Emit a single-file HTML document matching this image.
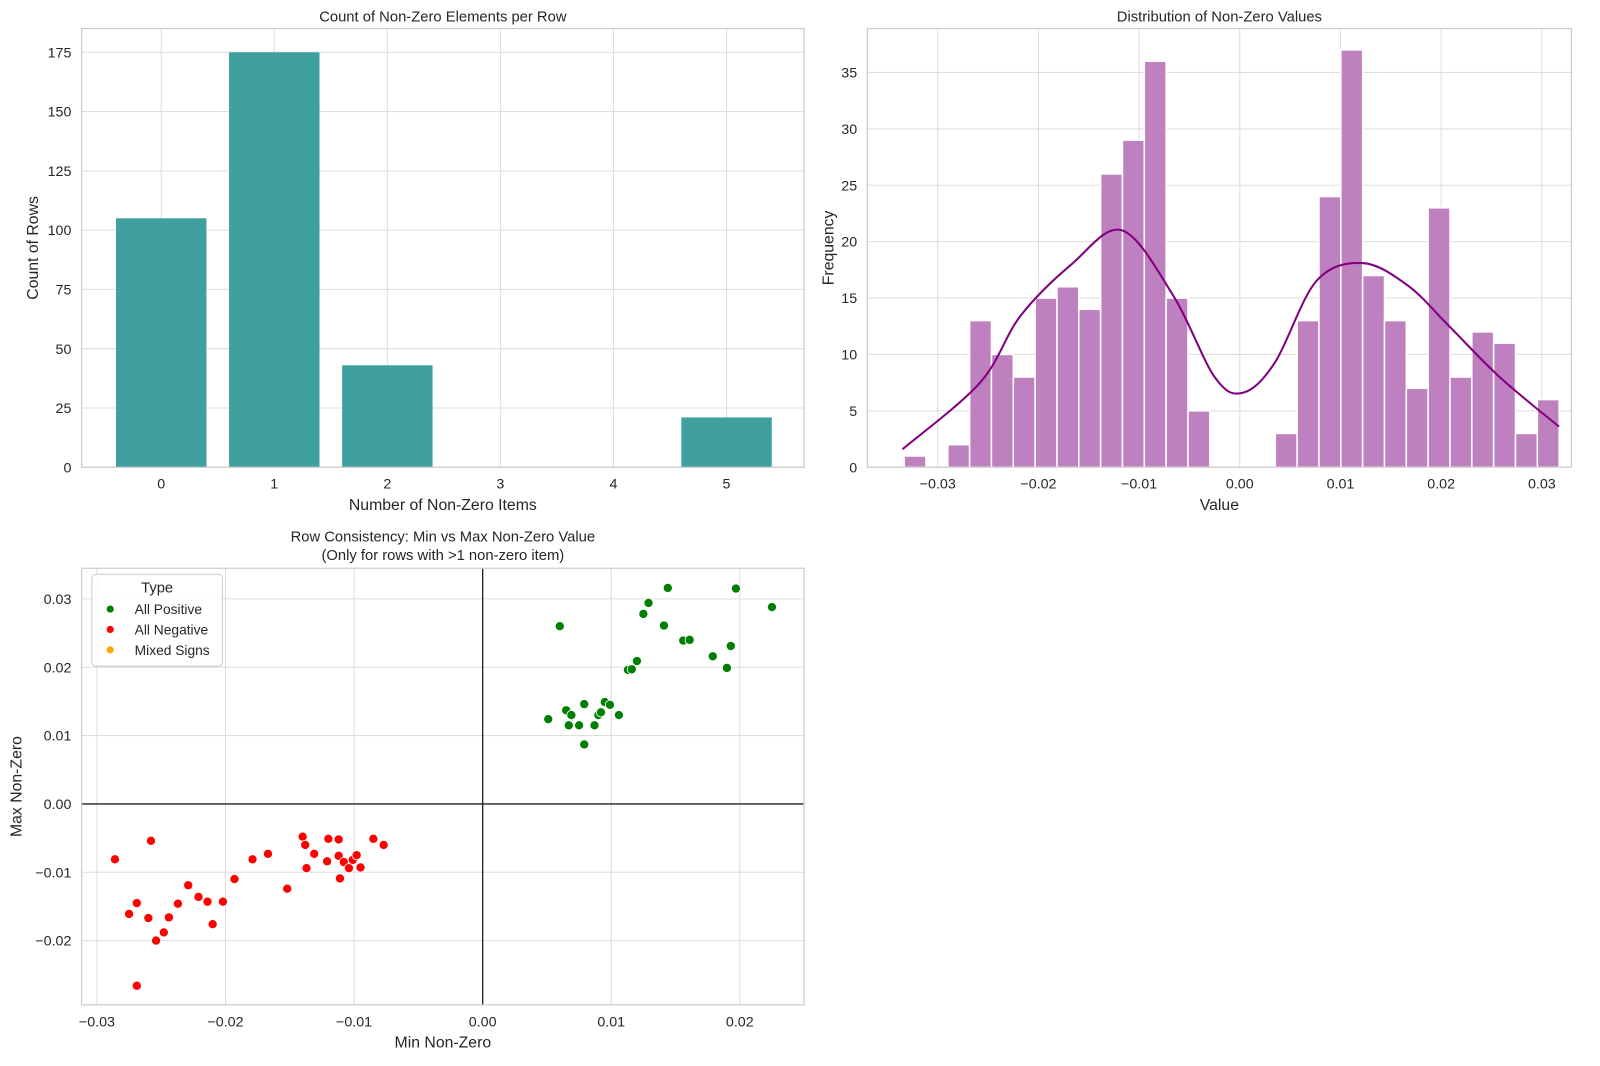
<!DOCTYPE html>
<html><head><meta charset="utf-8"><style>
body{margin:0;background:#fff;font-family:"Liberation Sans","DejaVu Sans",sans-serif;}
svg text{font-family:"Liberation Sans","DejaVu Sans",sans-serif;fill:#262626;}
</style></head><body>
<svg id="c" width="1600" height="1061" viewBox="0 0 1568 1040" preserveAspectRatio="none" xmlns="http://www.w3.org/2000/svg"></svg>
<script>
// Panel 1 data
const barCats=[0,1,2,3,4,5];
const barVals=[105,175,43,0,0,21];
const barYTicks=[0,25,50,75,100,125,150,175];
// Panel 2 data
const histCounts=[1,0,2,13,10,8,15,16,14,26,29,36,15,5,0,0,0,3,13,24,37,17,13,7,23,8,12,11,3,6];
const histStart=-0.03334, histEnd=0.03172;
const kdeX=[-0.0335,-0.0258,-0.0218,-0.0167,-0.0117,-0.0066,-0.0025,0.0003,0.0035,0.0076,0.0122,0.0167,0.0208,0.0258,0.0317];
const kdeY=[1.6,7.5,13.4,18,21,15.2,8,6.6,9.3,16.5,18.1,16.1,12.5,8,3.6];
const histXTicks=[-0.03,-0.02,-0.01,0,0.01,0.02,0.03];
const histYTicks=[0,5,10,15,20,25,30,35];
// Panel 3 data
const posX=[0.0051,0.0060,0.0065,0.0067,0.0069,0.0075,0.0079,0.0079,0.0087,0.0090,0.0092,0.0095,0.0099,0.0106,0.0113,0.0116,0.0120,0.0125,0.0129,0.0141,0.0144,0.0156,0.0161,0.0179,0.0190,0.0193,0.0197,0.0225];
const posY=[0.0124,0.0260,0.0137,0.0115,0.0130,0.0115,0.0146,0.0087,0.0115,0.0130,0.0134,0.0149,0.0145,0.0130,0.0196,0.0197,0.0209,0.0278,0.0294,0.0261,0.0316,0.0239,0.0240,0.0216,0.0199,0.0231,0.0315,0.0288];
const negX=[-0.0286,-0.0275,-0.0269,-0.0260,-0.0258,-0.0254,-0.0248,-0.0244,-0.0237,-0.0229,-0.0221,-0.0214,-0.0210,-0.0202,-0.0193,-0.0179,-0.0167,-0.0152,-0.0140,-0.0138,-0.0137,-0.0131,-0.0121,-0.0120,-0.0112,-0.0112,-0.0111,-0.0108,-0.0104,-0.0101,-0.0098,-0.0095,-0.0085,-0.0077,-0.0269];
const negY=[-0.0081,-0.0161,-0.0145,-0.0167,-0.0054,-0.0200,-0.0188,-0.0166,-0.0146,-0.0119,-0.0136,-0.0143,-0.0176,-0.0143,-0.0110,-0.0081,-0.0073,-0.0124,-0.0048,-0.0060,-0.0094,-0.0073,-0.0084,-0.0051,-0.0052,-0.0076,-0.0109,-0.0085,-0.0094,-0.0082,-0.0075,-0.0093,-0.0051,-0.0060,-0.0266];
const scXTicks=[-0.03,-0.02,-0.01,0,0.01,0.02];
const scYTicks=[-0.02,-0.01,0,0.01,0.02,0.03];

const svg=document.getElementById('c');
const NS='http://www.w3.org/2000/svg';
function mk(tag,attrs,parent){const e=document.createElementNS(NS,tag);for(const k in attrs)e.setAttribute(k,attrs[k]);(parent||svg).appendChild(e);return e;}
function txt(s,x,y,size,anchor,parent){const t=mk('text',{x:x,y:y,'font-size':size,'text-anchor':anchor||'middle'},parent);t.textContent=s;return t;}
function lin(d0,d1,r0,r1){return v=>r0+(v-d0)/(d1-d0)*(r1-r0);}
function fmt(v,d){let s=v.toFixed(d);if(v<0)s='\u2212'+s.slice(1);if(Math.abs(v)<1e-9)s=(0).toFixed(d);return s;}
function frame(g,L,T,R,B){const r=mk('rect',{x:L,y:T,width:R-L,height:B-T,fill:'none',stroke:'#cccccc','stroke-width':1.2},g);}

// ---------- Panel 1 ----------
{
const g=mk('g',{});
const L=80,R=788,T=28,B=458;
const x=lin(0,1,158,268.8), y=lin(0,185,B,T);
barYTicks.forEach(v=>{const l=mk('line',{x1:L,x2:R,y1:y(v),y2:y(v),stroke:'#dddddd'},g);
 const t=txt(String(v),L-10,y(v)+5,14,'end',g);});
barCats.forEach(c=>{const l=mk('line',{x1:x(c),x2:x(c),y1:T,y2:B,stroke:'#dddddd'},g);
 const t=txt(String(c),x(c),B+21,14,'middle',g);});
barCats.forEach((c,i)=>{const w=0.8*110.8;const r=mk('rect',{x:x(c)-w/2,y:y(barVals[i]),width:w,height:y(0)-y(barVals[i]),fill:'#40a0a0'},g);});
frame(g,L,T,R,B);
let t=txt('Count of Non-Zero Elements per Row',(L+R)/2,T-7,14.5,'middle',g);
t=txt('Number of Non-Zero Items',(L+R)/2,B+42,15.5,'middle',g);
t=txt('Count of Rows',0,0,15.5,'middle',g);t.setAttribute('transform','translate(37,'+((T+B)/2)+') rotate(-90)');
}
// ---------- Panel 2 ----------
{
const g=mk('g',{});
const L=850,R=1540,T=28,B=458;
const x=lin(0,0.01,1215,1313.67), y=lin(0,35,B,71);
histYTicks.forEach(v=>{const l=mk('line',{x1:L,x2:R,y1:y(v),y2:y(v),stroke:'#dddddd'},g);
 const t=txt(String(v),L-10,y(v)+5,14,'end',g);});
histXTicks.forEach(v=>{const l=mk('line',{x1:x(v),x2:x(v),y1:T,y2:B,stroke:'#dddddd'},g);
 const t=txt(fmt(v,2),x(v),B+21,14,'middle',g);});
const bw=(histEnd-histStart)/histCounts.length;
histCounts.forEach((c,i)=>{if(!c)return;const x0=x(histStart+i*bw),x1=x(histStart+(i+1)*bw);
 const r=mk('rect',{x:x0,y:y(c),width:x1-x0,height:y(0)-y(c),fill:'#bf80bf',stroke:'#ffffff','stroke-width':1.5},g);});
const pts=kdeX.map((v,i)=>[x(v),y(kdeY[i])]);let d='M'+pts[0][0]+','+pts[0][1];
for(let i=0;i<pts.length-1;i++){const p0=pts[Math.max(0,i-1)],p1=pts[i],p2=pts[i+1],p3=pts[Math.min(pts.length-1,i+2)];
 d+='C'+(p1[0]+(p2[0]-p0[0])/6)+','+(p1[1]+(p2[1]-p0[1])/6)+' '+(p2[0]-(p3[0]-p1[0])/6)+','+(p2[1]-(p3[1]-p1[1])/6)+' '+p2[0]+','+p2[1];}
const k=mk('path',{d:d,fill:'none',stroke:'#800080','stroke-width':2},g);
frame(g,L,T,R,B);
let t=txt('Distribution of Non-Zero Values',(L+R)/2,T-7,14.5,'middle',g);
t=txt('Value',(L+R)/2,B+42,15.5,'middle',g);
t=txt('Frequency',0,0,15.5,'middle',g);t.setAttribute('transform','translate(817,'+((T+B)/2)+') rotate(-90)');
}
// ---------- Panel 3 ----------
{
const g=mk('g',{});
const L=80,R=788,T=557,B=985;
const x=lin(0,0.01,473,599), y=lin(0,0.01,788,721);
scYTicks.forEach(v=>{const l=mk('line',{x1:L,x2:R,y1:y(v),y2:y(v),stroke:'#dddddd'},g);
 const t=txt(fmt(v,2),L-10,y(v)+5,14,'end',g);});
scXTicks.forEach(v=>{const l=mk('line',{x1:x(v),x2:x(v),y1:T,y2:B,stroke:'#dddddd'},g);
 const t=txt(fmt(v,2),x(v),B+21,14,'middle',g);});
let l=mk('line',{x1:L,x2:R,y1:y(0),y2:y(0),stroke:'#222','stroke-width':1.3},g);
l=mk('line',{x1:x(0),x2:x(0),y1:T,y2:B,stroke:'#222','stroke-width':1.3},g);
posX.forEach((v,i)=>{const c=mk('circle',{cx:x(v),cy:y(posY[i]),r:4.5,fill:'#008000',stroke:'#fff','stroke-width':0.8},g);});
negX.forEach((v,i)=>{const c=mk('circle',{cx:x(v),cy:y(negY[i]),r:4.5,fill:'#ff0000',stroke:'#fff','stroke-width':0.8},g);});
frame(g,L,T,R,B);
const lg=mk('g',{},g);
const lr=mk('rect',{x:90,y:563,width:128,height:90,rx:4,fill:'#fff','fill-opacity':0.85,stroke:'#cccccc'},lg);
let t=txt('Type',154,581,14.5,'middle',lg);
[['All Positive','#008000'],['All Negative','#ff0000'],['Mixed Signs','#ffa500']].forEach((e,i)=>{
 const c=mk('circle',{cx:108,cy:597+i*20,r:3.5,fill:e[1]},lg);
 const tt=txt(e[0],132,602+i*20,13.5,'start',lg);});
t=txt('Row Consistency: Min vs Max Non-Zero Value',(L+R)/2,531,14.5,'middle',g);
t=txt('(Only for rows with >1 non-zero item)',(L+R)/2,549,14.5,'middle',g);
t=txt('Min Non-Zero',(L+R)/2,B+42,15.5,'middle',g);
t=txt('Max Non-Zero',0,0,15.5,'middle',g);t.setAttribute('transform','translate(21,'+((T+B)/2)+') rotate(-90)');
}
</script>
</body></html>
